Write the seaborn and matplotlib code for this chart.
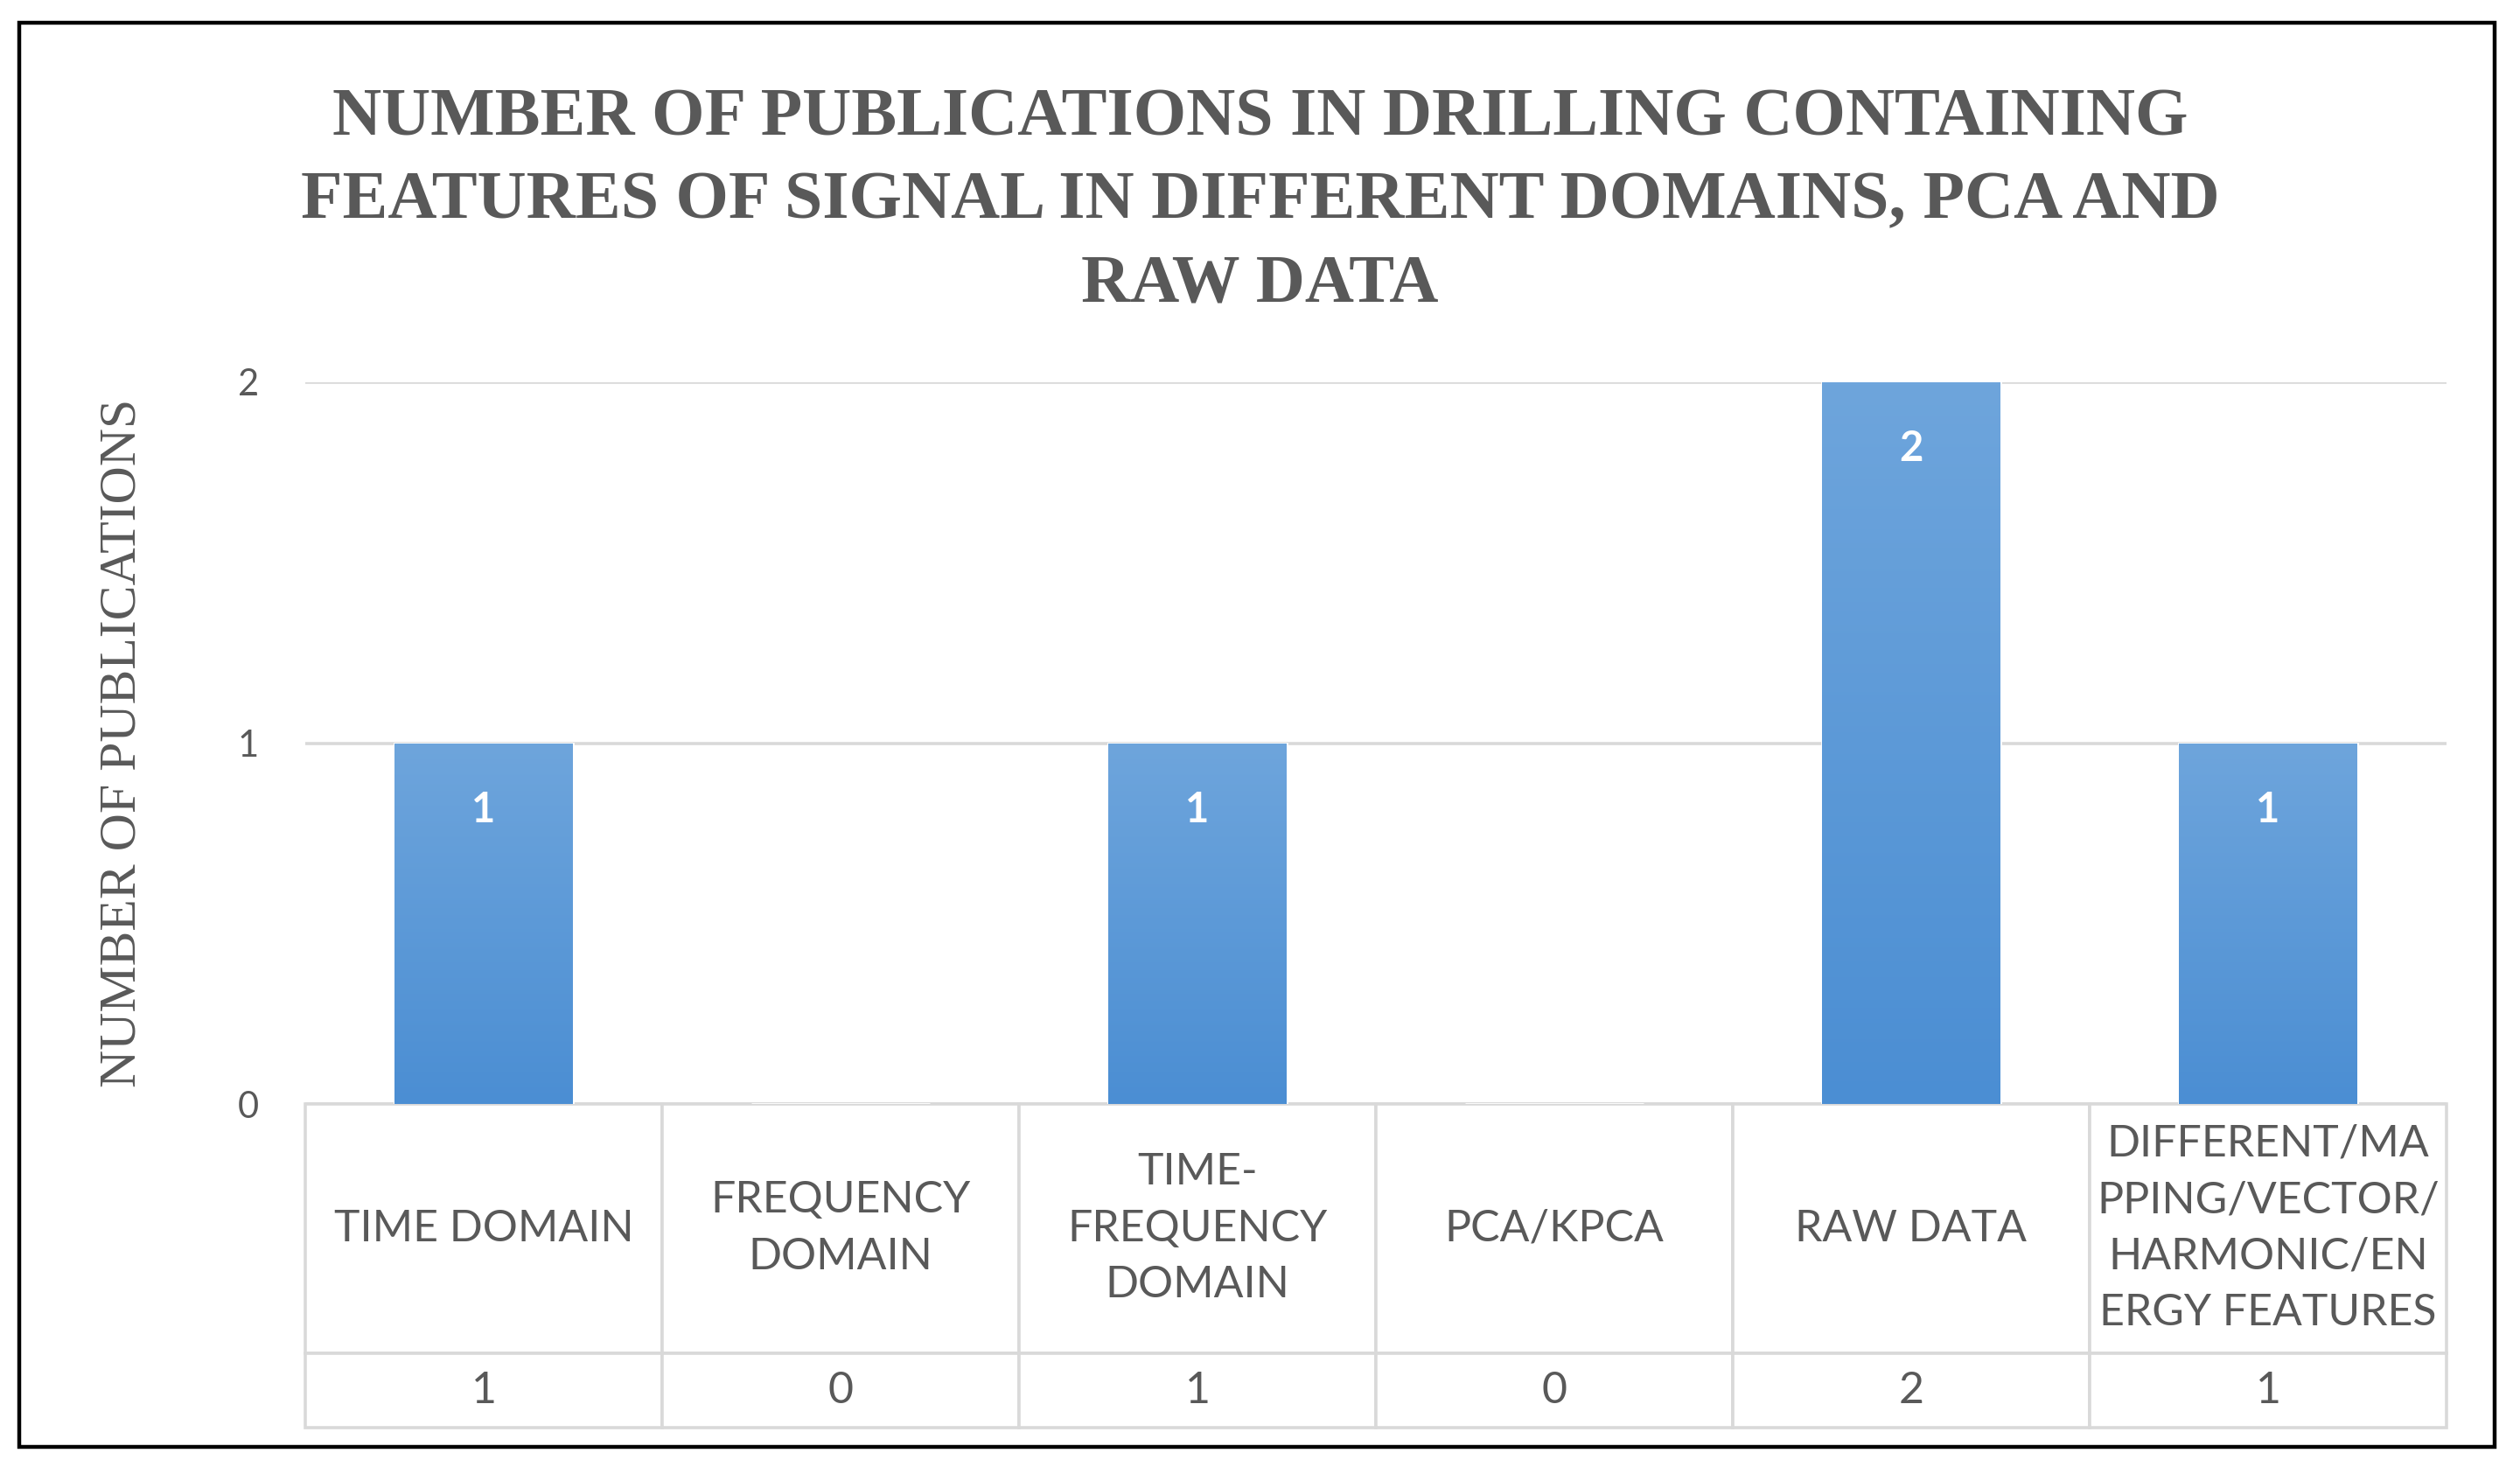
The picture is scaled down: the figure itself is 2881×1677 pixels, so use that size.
import numpy as np
import matplotlib.pyplot as plt
import seaborn as sns
from matplotlib.colors import LinearSegmentedColormap
from matplotlib.patches import Rectangle

# data
categories = ["TIME DOMAIN", "FREQUENCY DOMAIN", "TIME-FREQUENCY DOMAIN",
              "PCA/KPCA", "RAW DATA",
              "DIFFERENT/MAPPING/VECTOR/HARMONIC/ENERGY FEATURES"]
cell_labels = ["TIME DOMAIN", "FREQUENCY\nDOMAIN", "TIME-\nFREQUENCY\nDOMAIN",
               "PCA/KPCA", "RAW DATA",
               "DIFFERENT/MA\nPPING/VECTOR/\nHARMONIC/EN\nERGY FEATURES"]
publications = [1, 0, 1, 0, 2, 1]
y_ticks = [0, 1, 2]

title = ("NUMBER OF PUBLICATIONS IN DRILLING CONTAINING\n"
         "FEATURES OF SIGNAL IN DIFFERENT DOMAINS, PCA AND\n"
         "RAW DATA")
ylabel = "NUMBER OF PUBLICATIONS"

gray = "#595959"
grid_gray = "#D9D9D9"

sns.set_style("white")
plt.rcParams['font.family'] = ['Lato', 'DejaVu Sans']

W, H = 2881, 1677
fig = plt.figure(figsize=(W / 200, H / 200), dpi=200)
ax = fig.add_axes([349 / W, 1 - 1262 / H, (2797 - 349) / W, (1262 - 437) / H])

sns.barplot(x=categories, y=publications, color="#5B9BD5", width=0.5,
            saturation=1, ax=ax, zorder=2)

# gradient fill inside the bars
cmap = LinearSegmentedColormap.from_list("bar", ["#4B8ED3", "#6EA5DC"])
grad = np.linspace(0, 1, 256).reshape(-1, 1)
for p in ax.patches:
    h = p.get_height()
    if h <= 0:
        continue
    x0, w = p.get_x(), p.get_width()
    im = ax.imshow(grad, extent=[x0, x0 + w, 0, h], origin="lower", cmap=cmap,
                   aspect="auto", zorder=2.5)
    im.set_clip_path(p)

# labels inside bars
for p, v in zip(ax.patches, publications):
    if v == 0:
        continue
    ax.annotate(str(v), (p.get_x() + p.get_width() / 2, p.get_height()),
                xytext=(0, -27.5), textcoords="offset points",
                ha="center", va="center", color="white",
                fontsize=17, fontweight="bold", zorder=4)

ax.set_xlim(-0.5, len(categories) - 0.5)
ax.set_ylim(0, 2)
ax.set_yticks(y_ticks)
ax.set_yticklabels([str(t) for t in y_ticks])
ax.tick_params(axis="y", length=0, pad=19, labelsize=15, labelcolor=gray)
ax.set_xticks([])
ax.set_xlabel("")
ax.yaxis.grid(True, color=grid_gray, lw=1.3)
ax.set_axisbelow(True)
for s in ax.spines.values():
    s.set_visible(False)

ax.set_ylabel(ylabel, family=["Liberation Serif", "DejaVu Serif"],
              fontsize=21.5, color=gray)
ax.yaxis.set_label_coords(-0.074, 0.5)

# data table under the chart
tbl = ax.table(cellText=[cell_labels, [str(v) for v in publications]],
               cellLoc="center", bbox=[0, -0.4485, 1, 0.4485])
tbl.auto_set_font_size(False)
tbl.set_fontsize(18)
for (r, c), cell in tbl.get_celld().items():
    cell.set_edgecolor(grid_gray)
    cell.set_linewidth(1.3)
    cell.set_height(285 if r == 0 else 85)
    t = cell.get_text()
    t.set_color(gray)
    t.set_linespacing(1.5)
    t.set_fontfamily("Lato")

fig.text(0.5, 1 - 231 / H, title, ha="center", va="center",
         family=["Liberation Serif", "DejaVu Serif"], fontweight="bold",
         fontsize=28, color=gray, linespacing=1.45)

fig.add_artist(Rectangle((22 / W, 1 - 1654 / H), (2852 - 22) / W, (1654 - 26) / H,
                         transform=fig.transFigure, fill=False,
                         edgecolor="black", lw=1.6))

fig.savefig("out.png", dpi=200, facecolor="white")
plt.close()
